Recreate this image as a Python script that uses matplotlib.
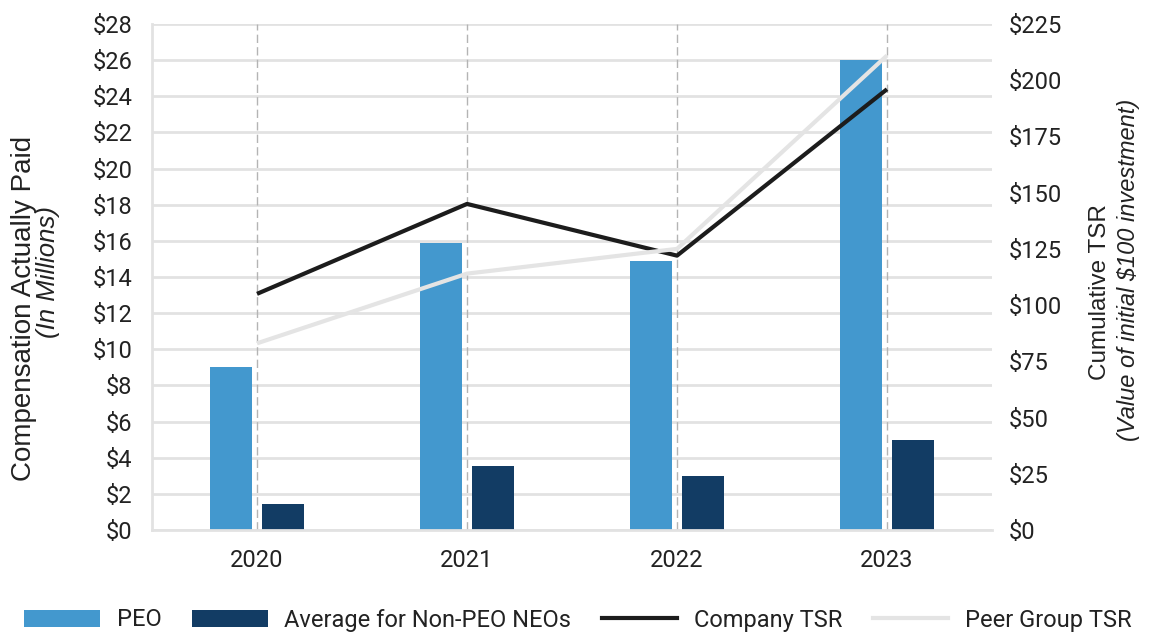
import matplotlib
matplotlib.use("Agg")
import matplotlib.pyplot as plt
from matplotlib.patches import Patch
from matplotlib.lines import Line2D
import numpy as np

years = ["2020", "2021", "2022", "2023"]
peo_cap = [9.0, 15.9, 14.9, 26.0]          # $ millions
neo_avg_cap = [1.45, 3.55, 3.0, 5.0]       # $ millions
company_tsr = [105, 145, 122, 196]         # value of $100
peer_tsr = [83, 114, 125, 211]

left_ticks = list(range(0, 29, 2))
right_ticks = list(range(0, 226, 25))

PEO_BLUE = "#4398CE"
NEO_NAVY = "#123C64"
COMPANY_BLACK = "#1c1c1c"
PEER_GRAY = "#e4e4e4"
GRID_GRAY = "#e2e2e2"

plt.rcParams["font.family"] = "Roboto"
plt.rcParams["text.color"] = "#222222"

W, H = 1149, 640
fig = plt.figure(figsize=(W / 100, H / 100), dpi=100)
ax = fig.add_axes([152 / W, 1 - 530 / H, (992 - 152) / W, (530 - 24) / H])

x = np.arange(len(years))
bw = 0.2
off = 0.124

# vertical dashed guides at each year
for xi in x:
    ax.axvline(xi, color="#b4b4b4", lw=1.0, dashes=(6, 3), zorder=1)

ax.bar(x - off, peo_cap, bw, color=PEO_BLUE, zorder=2)
ax.bar(x + off, neo_avg_cap, bw, color=NEO_NAVY, zorder=2)

ax.set_xlim(-0.5, 3.5)
ax.set_ylim(0, 28)
ax.set_yticks(left_ticks)
ax.set_yticklabels([f"${v}" for v in left_ticks])
ax.set_xticks(x)
ax.set_xticklabels(years)
ax.yaxis.grid(True, color=GRID_GRAY, lw=2)
ax.set_axisbelow(True)
ax.tick_params(axis="y", length=0, pad=14, labelsize=17, colors="#222222")
ax.tick_params(axis="x", length=0, pad=14, labelsize=17, colors="#222222")
for s in ["top", "right"]:
    ax.spines[s].set_visible(False)
for s in ["left", "bottom"]:
    ax.spines[s].set_color(GRID_GRAY)
    ax.spines[s].set_linewidth(2)

ax2 = ax.twinx()
ax2.plot(x, company_tsr, color=COMPANY_BLACK, lw=3, solid_capstyle="butt", zorder=3)
ax2.plot(x, peer_tsr, color=PEER_GRAY, lw=3, solid_capstyle="butt", zorder=4)
ax2.set_ylim(0, 225)
ax2.set_yticks(right_ticks)
ax2.set_yticklabels([f"${v}" for v in right_ticks])
ax2.tick_params(axis="y", length=0, pad=12, labelsize=17, colors="#222222")
for s in ax2.spines.values():
    s.set_visible(False)

# axis titles
lab_font = "Liberation Sans"
fig.text(24 / W, 1 - 308 / H, "Compensation Actually Paid", rotation=90,
         ha="center", va="center", fontsize=20, family=lab_font)
fig.text(48 / W, 1 - 272 / H, "(In Millions)", rotation=90, style="italic",
         ha="center", va="center", fontsize=18.5, family=lab_font)
fig.text(1100 / W, 1 - 292 / H, "Cumulative TSR", rotation=90,
         ha="center", va="center", fontsize=17.5, family=lab_font)
fig.text(1129 / W, 1 - 270 / H, "(Value of initial $100 investment)", rotation=90,
         style="italic", ha="center", va="center", fontsize=17, family=lab_font)

handles = [
    Patch(facecolor=PEO_BLUE, edgecolor="none"),
    Patch(facecolor=NEO_NAVY, edgecolor="none"),
    Line2D([], [], color=COMPANY_BLACK, lw=3),
    Line2D([], [], color=PEER_GRAY, lw=3),
]
labels = ["PEO", "Average for Non-PEO NEOs", "Company TSR", "Peer Group TSR"]
fig.legend(handles, labels, loc="center", bbox_to_anchor=(0.503, 1 - 620 / H),
           ncol=4, frameon=False, fontsize=17, handlelength=3.2,
           handleheight=0.7, handletextpad=0.7, columnspacing=1.3)

fig.savefig("out.png", dpi=100)
